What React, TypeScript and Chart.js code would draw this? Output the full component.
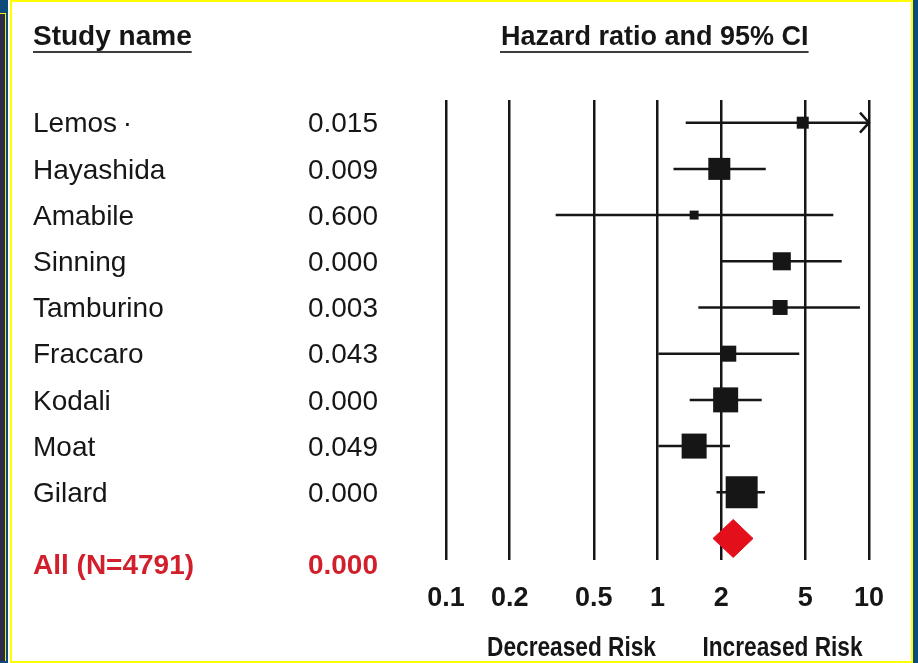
import React, { useEffect, useRef } from "react";
import { Chart, registerables } from "chart.js";

Chart.register(...registerables);

// ---------- data ----------
const studies = ["Lemos\u2009\u00B7", "Hayashida", "Amabile", "Sinning", "Tamburino", "Fraccaro", "Kodali", "Moat", "Gilard"];
const pValues = ["0.015", "0.009", "0.600", "0.000", "0.003", "0.043", "0.000", "0.049", "0.000"];
const hazardRatios = [4.86, 1.96, 1.49, 3.87, 3.8, 2.16, 2.1, 1.49, 2.5];
const ciLower = [1.36, 1.19, 0.33, 2.01, 1.56, 1.01, 1.42, 1.01, 1.9];
const ciUpper = [10, 3.25, 6.78, 7.43, 9.06, 4.68, 3.11, 2.2, 3.22];
const ciTruncated = [true, false, false, false, false, false, false, false, false];
const weights = [3.8, 12.8, 2.1, 8.6, 5.9, 6.8, 16.5, 16.5, 27.0];

const overallLabel = "All (N=4791)";
const overallP = "0.000";
const overallHR = 2.28;
const overallLower = 1.83;
const overallUpper = 2.83;

const tickValues = [0.1, 0.2, 0.5, 1, 2, 5, 10];
const tickLabels = ["0.1", "0.2", "0.5", "1", "2", "5", "10"];

const headerLeft = "Study name";
const headerRight = "Hazard ratio and 95% CI";
const lowSideLabel = "Decreased Risk";
const highSideLabel = "Increased Risk";

// ---------- styling ----------
const FONT = '"Liberation Sans", Arial, sans-serif';
const INK = "#161616";
const RED = "#e3101b";
const TEXT_RED = "#d21f2c";

const overallRow = studies.length;
const diamondHalf = 0.41;

const textPlugin = {
  id: "forestText",
  afterDraw(chart: any) {
    const ctx = chart.ctx as CanvasRenderingContext2D;
    const xs = chart.scales.x;
    const ys = chart.scales.y;
    ctx.save();

    // headers
    ctx.fillStyle = INK;
    ctx.strokeStyle = "#3c3c3c";
    ctx.lineWidth = 2;
    ctx.textAlign = "left";
    ctx.textBaseline = "alphabetic";
    ctx.font = `bold 28px ${FONT}`;
    ctx.fillText(headerLeft, 33, 45);
    let w = ctx.measureText(headerLeft).width;
    ctx.beginPath();
    ctx.moveTo(33, 52);
    ctx.lineTo(33 + w, 52);
    ctx.stroke();

    ctx.font = `bold 27px ${FONT}`;
    ctx.fillText(headerRight, 501, 45);
    w = ctx.measureText(headerRight).width;
    ctx.beginPath();
    ctx.moveTo(500, 52);
    ctx.lineTo(501 + w, 52);
    ctx.stroke();

    // study rows
    ctx.font = `28px ${FONT}`;
    ctx.textBaseline = "middle";
    studies.forEach((s, i) => {
      const py = ys.getPixelForValue(i) + 2;
      ctx.textAlign = "left";
      ctx.fillText(s, 33, py);
      ctx.textAlign = "right";
      ctx.fillText(pValues[i], 378, py);
    });

    // overall row
    ctx.fillStyle = TEXT_RED;
    ctx.font = `bold 28px ${FONT}`;
    const oy = ys.getPixelForValue(overallRow) + 28;
    ctx.textAlign = "left";
    ctx.fillText(overallLabel, 33, oy);
    ctx.textAlign = "right";
    ctx.fillText(overallP, 378, oy);

    // arrows for truncated CIs
    ctx.strokeStyle = INK;
    ctx.lineWidth = 2.5;
    ciTruncated.forEach((t, i) => {
      if (!t) return;
      const px = xs.getPixelForValue(ciUpper[i]);
      const py = ys.getPixelForValue(i);
      ctx.beginPath();
      ctx.moveTo(px - 9, py - 10);
      ctx.lineTo(px, py);
      ctx.lineTo(px - 9, py + 10);
      ctx.stroke();
    });

    // bottom direction labels
    ctx.fillStyle = INK;
    ctx.font = `bold 27px ${FONT}`;
    ctx.textAlign = "center";
    ctx.textBaseline = "alphabetic";
    const x1 = xs.getPixelForValue(1);
    [
      [lowSideLabel, x1 - 86],
      [highSideLabel, x1 + 125],
    ].forEach(([label, cx]) => {
      ctx.save();
      ctx.translate(cx as number, 656);
      ctx.scale(0.84, 1);
      ctx.fillText(label as string, 0, 0);
      ctx.restore();
    });

    ctx.restore();
  },
};

function App() {
  const ref = useRef<HTMLCanvasElement | null>(null);

  useEffect(() => {
    if (!ref.current) return;

    const ciDatasets = studies.map((_, i) => ({
      data: [
        { x: ciLower[i], y: i },
        { x: ciUpper[i], y: i },
      ],
      showLine: true,
      borderColor: INK,
      borderWidth: 2.5,
      pointRadius: 0,
      fill: false,
    }));

    const markerDataset = {
      data: studies.map((_, i) => ({ x: hazardRatios[i], y: i })),
      pointStyle: "rect",
      pointRadius: (c: any) => (6.155 * Math.sqrt(weights[c.dataIndex] ?? 1)) / Math.SQRT2,
      backgroundColor: INK,
      borderColor: INK,
      borderWidth: 0,
      showLine: false,
    };

    const diamondTop = {
      data: [
        { x: overallLower, y: overallRow },
        { x: overallHR, y: overallRow - diamondHalf },
        { x: overallUpper, y: overallRow },
      ],
      showLine: true,
      borderColor: RED,
      borderWidth: 1,
      backgroundColor: RED,
      pointRadius: 0,
      fill: "+1",
    };
    const diamondBottom = {
      data: [
        { x: overallLower, y: overallRow },
        { x: overallHR, y: overallRow + diamondHalf },
        { x: overallUpper, y: overallRow },
      ],
      showLine: true,
      borderColor: RED,
      borderWidth: 1,
      backgroundColor: RED,
      pointRadius: 0,
      fill: false,
    };

    const chart = new Chart(ref.current, {
      type: "scatter",
      data: { datasets: [markerDataset, diamondTop, diamondBottom, ...ciDatasets] as any },
      options: {
        animation: false,
        responsive: true,
        maintainAspectRatio: false,
        events: [],
        layout: { padding: { left: 446, right: 49, top: 100, bottom: 26.6 } },
        plugins: {
          legend: { display: false },
          tooltip: { enabled: false },
          title: { display: false },
        },
        scales: {
          x: {
            type: "logarithmic",
            min: 0.1,
            max: 10,
            afterBuildTicks: (scale: any) => {
              scale.ticks = tickValues.map((v) => ({ value: v }));
            },
            ticks: {
              callback: (v: any) => {
                const idx = tickValues.findIndex((t) => Math.abs(t - Number(v)) < 1e-9);
                return idx >= 0 ? tickLabels[idx] : "";
              },
              font: { family: FONT, size: 27, weight: "bold" },
              color: INK,
              padding: 22,
              maxRotation: 0,
              autoSkip: false,
            },
            grid: { color: INK, lineWidth: 2.5, drawTicks: false },
            border: { display: false },
          },
          y: {
            type: "linear",
            reverse: true,
            min: -0.491,
            max: 9.466,
            display: false,
          },
        },
      },
      plugins: [textPlugin],
    } as any);

    return () => chart.destroy();
  }, []);

  return (
    <div style={{ position: "fixed", left: 0, top: 0, width: 918, height: 663, background: "#0b4a7b", overflow: "hidden" }}>
      <div style={{ position: "absolute", left: 0, top: 13, width: 5, height: 647, background: "#2a2e4a", borderTop: "1px solid #f4f000", borderRight: "1.5px solid #f4f000" }} />
      <div style={{ position: "absolute", left: 8, top: 0, width: 905, height: 663, background: "#ffffff" }} />
      <div style={{ position: "absolute", left: 10, top: 0, width: 899, height: 659, border: "2px solid #ffff00", boxSizing: "content-box" }} />
      <div style={{ position: "absolute", left: 0, top: 0, width: 918, height: 663 }}>
        <canvas ref={ref} />
      </div>
    </div>
  );
}

export default App;
